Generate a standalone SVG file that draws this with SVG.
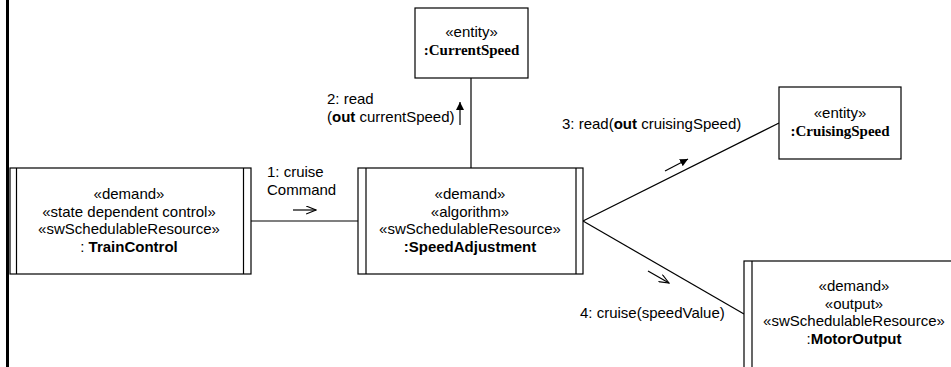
<svg xmlns="http://www.w3.org/2000/svg" width="951" height="367" viewBox="0 0 951 367">
<style>
.box{fill:#fff;stroke:#000;stroke-width:1.2}
.bar{fill:none;stroke:#000;stroke-width:1.2}
.t{font-family:"Liberation Sans",Arial,sans-serif;font-size:15px;fill:#000}
.c{text-anchor:middle}
.tb{font-family:"Liberation Serif","Times New Roman",serif;font-size:15px;font-weight:bold;fill:#000}
.b{font-weight:bold}
.ln{stroke:#000;stroke-width:1.2;fill:none}
</style>
<defs>
<marker id="filled" viewBox="0 0 10 10" refX="10" refY="5" markerWidth="8" markerHeight="8" markerUnits="userSpaceOnUse" orient="auto">
<path d="M0,0 L10,5 L0,10 Z" fill="#000"/>
</marker>
<marker id="open" viewBox="0 0 12 10" refX="11" refY="5" markerWidth="11" markerHeight="9" markerUnits="userSpaceOnUse" orient="auto">
<path d="M0,0.5 L11,5 L0,9.5" fill="none" stroke="#000" stroke-width="1.2"/>
</marker>
</defs>
<line x1="7.5" y1="0" x2="7.5" y2="367" stroke="#000" stroke-width="3"/>
<g id="connectors">
<line class="ln" x1="251" y1="221" x2="358" y2="221"/>
<line class="ln" x1="471" y1="78" x2="471" y2="168"/>
<line class="ln" x1="583" y1="221" x2="779" y2="123"/>
<line class="ln" x1="583" y1="221" x2="744" y2="314"/>
<line class="ln" x1="293" y1="210" x2="316" y2="210" marker-end="url(#open)"/>
<line class="ln" x1="460" y1="125" x2="460" y2="102" marker-end="url(#filled)"/>
<line class="ln" x1="665" y1="171" x2="688" y2="159" marker-end="url(#filled)"/>
<line class="ln" x1="648" y1="271" x2="669" y2="283" marker-end="url(#open)"/>
<text class="t" x="267" y="177">1: cruise</text>
<text class="t" x="267" y="195">Command</text>
<text class="t" x="327" y="104">2: read</text>
<text class="t" x="327" y="121.5">(<tspan class="b">out</tspan> currentSpeed)</text>
<text class="t" x="562" y="129">3: read(<tspan class="b">out</tspan> cruisingSpeed)</text>
<text class="t" x="580" y="318">4: cruise(speedValue)</text>
</g>
<g id="TrainControl">
<rect class="box" x="10" y="168" width="241" height="106"/>
<line class="bar" x1="16.5" y1="168" x2="16.5" y2="274"/>
<line class="bar" x1="243.5" y1="168" x2="243.5" y2="274"/>
<text class="t c" x="129" y="199">«demand»</text>
<text class="t c" x="129" y="216.5">«state dependent control»</text>
<text class="t c" x="129" y="234">«swSchedulableResource»</text>
<text class="t c" x="129" y="251.5">: <tspan class="b">TrainControl</tspan></text>
</g>
<g id="SpeedAdjustment">
<rect class="box" x="358" y="168" width="225" height="106"/>
<line class="bar" x1="366" y1="168" x2="366" y2="274"/>
<line class="bar" x1="576" y1="168" x2="576" y2="274"/>
<text class="t c" x="470" y="199">«demand»</text>
<text class="t c" x="470" y="216.5">«algorithm»</text>
<text class="t c" x="470" y="234">«swSchedulableResource»</text>
<text class="t c b" x="470" y="251.5">:SpeedAdjustment</text>
</g>
<g id="CurrentSpeed">
<rect class="box" x="415" y="8" width="113" height="70"/>
<text class="t c" x="471.5" y="37">«entity»</text>
<text class="tb c" x="471.5" y="55">:CurrentSpeed</text>
</g>
<g id="CruisingSpeed">
<rect class="box" x="779" y="87" width="122" height="72"/>
<text class="t c" x="840" y="118">«entity»</text>
<text class="tb c" x="840" y="136">:CruisingSpeed</text>
</g>
<g id="MotorOutput">
<rect class="box" x="744" y="261" width="222" height="120"/>
<line class="bar" x1="752" y1="261" x2="752" y2="381"/>
<text class="t c" x="854" y="291">«demand»</text>
<text class="t c" x="854" y="308.5">«output»</text>
<text class="t c" x="854" y="326">«swSchedulableResource»</text>
<text class="t c" x="854" y="343.5">:<tspan class="b">MotorOutput</tspan></text>
</g>
</svg>
